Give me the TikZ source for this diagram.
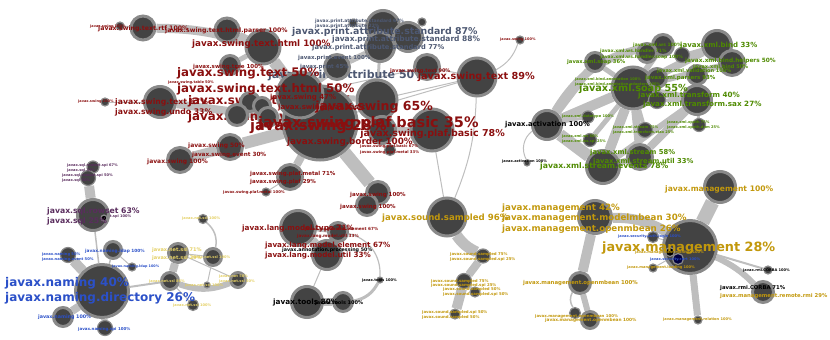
\documentclass[tikz,border=0pt]{standalone}
\usepackage{fontspec}
\setmainfont{DejaVu Sans}
\definecolor{nfill}{HTML}{434343}
\definecolor{nring}{HTML}{8A8A8A}
\definecolor{ecol}{HTML}{BEBEBE}
\definecolor{sw}{HTML}{8A0F0F}
\definecolor{pr}{HTML}{4D5872}
\definecolor{xm}{HTML}{4E8A00}
\definecolor{mg}{HTML}{C2980C}
\definecolor{nt}{HTML}{E3CF63}
\definecolor{nm}{HTML}{2B50C8}
\definecolor{sq}{HTML}{5A2D5E}
\pgfdeclarelayer{bg}
\pgfsetlayers{bg,main}
\begin{document}
\begin{tikzpicture}[x=1pt,y=-1pt,
 nd/.style={circle,fill=nfill,draw=nring,line width=3pt,inner sep=0pt,minimum size=#1pt},
 sn/.style={circle,fill=nfill,draw=nring,line width=1.2pt,inner sep=0pt,minimum size=#1pt},
 lb/.style={anchor=west,inner sep=0pt,font=\bfseries\fontsize{#1}{#1}\selectfont},
 ed/.style={draw=ecol,line width=#1pt}]
\useasboundingbox (0,0) rectangle (830,340);
% ---------- occluded labels ----------
\node[lb=11.8,text=sw] (B1) at (188,101) {javax.swing.text.rtf 67\%};
\node[lb=11.8,text=sw] (B2) at (188,117) {javax.swing.event 75\%};
\node[lb=11,text=pr] (B3) at (268,76) {javax.print.attribute 50\%};
\node[lb=3.6,text=sq] (B4) at (78,217) {javax.sql.rowset.spi 100\%};
% ---------- nodes: swing ----------
\node[sn=8] (s0) at (120,26) {};
\node[nd=24] (s1) at (143,28) {};
\node[nd=24] (s2) at (227,30) {};
\node[nd=34] (s3) at (263,47) {};
\node[nd=19] (s4) at (230,65) {};
\node[nd=31] (s5) at (160,102) {};
\node[sn=8] (s6) at (105,102) {};
\node[nd=19] (s7) at (250,102) {};
\node[nd=17] (s8) at (262,106) {};
\node[nd=21] (s9) at (237,115) {};
\node[nd=19] (s10) at (268,117) {};
\node[nd=74] (c1) at (320,123) {};
\node[nd=46] (c2) at (300,95) {};
\node[nd=40] (c3) at (377,100) {};
\node[nd=27] (c4) at (382,130) {};
\node[nd=42] (c5) at (432,130) {};
\node[sn=11] (c6) at (390,150) {};
\node[nd=25] (s11) at (230,147) {};
\node[nd=25] (s12) at (180,160) {};
\node[nd=25] (s13) at (290,177) {};
\node[sn=8] (s14) at (266,192) {};
\node[nd=23] (s15) at (378,193) {};
\node[nd=21] (s16) at (367,205) {};
\node[nd=25] (s17) at (427,67) {};
\node[nd=38] (s18) at (477,77) {};
\node[sn=8] (s19) at (520,40) {};
% print
\node[nd=33] (p1) at (383,27) {};
\node[nd=29] (p2) at (408,37) {};
\node[nd=29] (p3) at (380,47) {};
\node[nd=25] (p4) at (337,67) {};
\node[sn=8] (p5) at (353,23) {};
\node[sn=8] (p6) at (422,22) {};
% lang, tools
\node[nd=35] (l1) at (298,228) {};
\node[nd=19] (l2) at (338,232) {};
\node[nd=29] (l3) at (327,255) {};
\node[nd=31] (t1) at (307,302) {};
\node[nd=19] (t2) at (343,302) {};
\node[sn=6] (t3) at (380,280) {};
% sound
\node[nd=38] (a1) at (447,217) {};
\node[sn=14] (a2) at (483,256) {};
\node[sn=15] (a3) at (464,281) {};
\node[sn=10] (a4) at (475,292) {};
\node[sn=10] (a5) at (455,314) {};
% xml
\node[nd=29] (x0) at (547,125) {};
\node[sn=6] (x1) at (527,163) {};
\node[nd=19] (x2) at (595,62) {};
\node[nd=42] (x3) at (633,88) {};
\node[nd=21] (x4) at (663,45) {};
\node[nd=19] (x5) at (647,53) {};
\node[sn=15] (x6) at (682,55) {};
\node[nd=29] (x7) at (717,45) {};
\node[nd=25] (x8) at (732,63) {};
\node[nd=19] (x9) at (697,75) {};
\node[nd=19] (x10) at (657,78) {};
\node[nd=29] (x11) at (697,100) {};
\node[sn=17] (x12) at (657,100) {};
\node[sn=12] (x13) at (588,117) {};
\node[sn=15] (x14) at (645,130) {};
\node[sn=13] (x15) at (590,140) {};
\node[sn=13] (x16) at (699,125) {};
\node[nd=25] (x17) at (640,157) {};
\node[nd=33] (x18) at (603,167) {};
% management
\node[nd=31] (m1) at (720,187) {};
\node[nd=53] (m2) at (690,247) {};
\node[nd=33] (m3) at (595,217) {};
\node[sn=11] (m4) at (653,237) {};
\node[sn=9,fill=black] (m5) at (670,252) {};
\node[sn=11,fill=blue!25!black] (m6) at (678,259) {};
\node[sn=8] (m7) at (653,268) {};
\node[nd=21] (m8) at (580,283) {};
\node[sn=11] (m9) at (575,313) {};
\node[nd=17] (m10) at (590,320) {};
\node[sn=8] (m11) at (698,320) {};
\node[sn=8] (m12) at (768,270) {};
\node[nd=21] (m13) at (763,292) {};
% naming
\node[nd=53] (n1) at (102,291) {};
\node[sn=15] (n2) at (68,255) {};
\node[nd=17] (n3) at (113,250) {};
\node[sn=8] (n4) at (132,267) {};
\node[nd=19] (n5) at (63,317) {};
\node[sn=15] (n6) at (105,328) {};
% sql
\node[sn=12] (q1) at (93,167) {};
\node[sn=15] (q2) at (88,178) {};
\node[nd=31] (q3) at (93,215) {};
\node[sn=6,fill=black] (q4) at (104,218) {};
% net
\node[sn=9] (e1) at (203,219) {};
\node[nd=19] (e2) at (178,253) {};
\node[nd=17] (e3) at (213,257) {};
\node[nd=17] (e4) at (170,281) {};
\node[sn=6] (e5) at (207,285) {};
\node[nd=15] (e6) at (238,280) {};
\node[sn=11] (e7) at (193,305) {};
% ---------- edges ----------
\begin{pgfonlayer}{bg}
\draw[ed=1.5] (s0) -- (s1);
\draw[ed=9] (s1) to[bend left=8] (s3);
\draw[ed=8] (s2) -- (s3);
\draw[ed=12] (s3) -- (c1);
\draw[ed=5] (s4) -- (s3);
\draw[ed=8] (s5) -- (c1);
\draw[ed=1] (s6) -- (s5);
\draw[ed=10] (s12) -- (s11);
\draw[ed=12] (s11) -- (c1);
\draw[ed=8] (s13) -- (c1);
\draw[ed=1] (s14) -- (s13);
\draw[ed=13] (c1) -- (s15);
\draw[ed=4] (s16) -- (s15);
\draw[ed=1] (s17) -- (c2);
\draw[ed=1] (s18) -- (c3);
\draw[ed=1] (s18) -- (c1);
\draw[ed=1] (s17) -- (s18);
\draw[ed=1] (s18) to[bend right=20] (s19);
\draw[ed=1] (s18) to[bend left=10] (a1);
\draw[ed=1] (c5) -- (a1);
\draw[ed=6] (c5) -- (c4);
\draw[ed=6] (c3) -- (c2);
\draw[ed=2] (c6) -- (c4);
\draw[ed=6] (p3) -- (p4);
\draw[ed=6] (p4) -- (c2);
\draw[ed=4] (p1) -- (p2);
\draw[ed=1] (p5) -- (p1);
\draw[ed=1] (p6) -- (p2);
\draw[ed=3] (p3) -- (c3);
\draw[ed=10] (l1) -- (l3);
\draw[ed=3] (l1) -- (l2);
\draw[ed=1.2] (l2) to[bend left=40] (t3);
\draw[ed=3] (t3) to[bend left=25] (t2);
\draw[ed=1] (l3) -- (t1);
\draw[ed=8] (t1) -- (t2);
\draw[ed=11] (a1) to[bend right=15] (a2);
\draw[ed=8] (a2) -- (a3);
\draw[ed=10] (a3) -- (a5);
\draw[ed=3] (a4) -- (a3);
\draw[ed=12] (x0) -- (x18);
\draw[ed=8] (x0) -- (x2);
\draw[ed=10] (x0) -- (x3);
\draw[ed=3] (x0) -- (x13);
\draw[ed=1] (x0) to[bend right=40] (x1);
\draw[ed=10] (x18) -- (x3);
\draw[ed=8] (x17) -- (x11);
\draw[ed=6] (x18) -- (x11);
\draw[ed=8] (x17) -- (x3);
\draw[ed=5] (x15) -- (x3);
\draw[ed=4] (x14) -- (x3);
\draw[ed=5] (x2) -- (x3);
\draw[ed=6] (x3) -- (x4);
\draw[ed=8] (x3) -- (x7);
\draw[ed=6] (x3) -- (x8);
\draw[ed=8] (x3) -- (x11);
\draw[ed=4] (x3) -- (x10);
\draw[ed=8] (x0) to[bend left=25] (x4);
\draw[ed=3] (x5) -- (x4);
\draw[ed=3] (x6) -- (x7);
\draw[ed=3] (x9) -- (x8);
\draw[ed=3] (x12) -- (x11);
\draw[ed=3] (x16) -- (x11);
\draw[ed=6] (x18) -- (x17);
\draw[ed=14] (m2) -- (m1);
\draw[ed=10] (m2) to[bend right=15] (m3);
\draw[ed=10] (m3) -- (m8);
\draw[ed=6] (m8) -- (m10);
\draw[ed=1.5] (m9) to[bend left=30] (m8);
\draw[ed=7] (m2) -- (m11);
\draw[ed=6] (m2) to[bend left=10] (m13);
\draw[ed=2] (m2) -- (m12);
\draw[ed=1] (m2) -- (m4);
\draw[ed=1] (m2) -- (m7);
\draw[ed=10] (n1) -- (n2);
\draw[ed=8] (n1) -- (n5);
\draw[ed=7] (n1) -- (n6);
\draw[ed=1.5] (n1) -- (n3);
\draw[ed=1] (n3) -- (n4);
\draw[ed=2] (n1) -- (e4);
\draw[ed=1.5] (q3) -- (n1);
\draw[ed=10] (q3) -- (q2);
\draw[ed=6] (q2) -- (q1);
\draw[ed=8] (e4) -- (e2);
\draw[ed=6] (e4) to[bend right=20] (e6);
\draw[ed=1.5] (e3) to[bend right=30] (e1);
\draw[ed=1] (e3) -- (e5);
\draw[ed=1] (e2) -- (e6);
\draw[ed=1] (e4) -- (e7);
\draw[ed=1] (e2) -- (e3);
\end{pgfonlayer}
% ---------- labels ----------
% swing
\node[lb=3.5,text=sw] (L1) at (90,27) {javax.swing 100\%};
\node[lb=6.2,text=sw] (L2) at (98,29) {javax.swing.text.rtf 100\%};
\node[lb=6.2,text=sw] (L3) at (165,31) {javax.swing.text.html.parser 100\%};
\node[lb=8.8,text=sw] (L4) at (192,44) {javax.swing.text.html 100\%};
\node[lb=5.5,text=sw] (L5) at (193,67) {javax.swing.tree 100\%};
\node[lb=11.8,text=sw] (L6) at (177,73) {javax.swing.text 50\%};
\node[lb=3.6,text=sw] (L7) at (168,83) {javax.swing.table 50\%};
\node[lb=11.8,text=sw] (L8) at (177,89) {javax.swing.text.html 50\%};
\node[lb=3.5,text=sw] (L9) at (78,102) {javax.swing 100\%};
\node[lb=7.7,text=sw] (L10) at (115,102) {javax.swing.text 67\%};
\node[lb=7.7,text=sw] (L11) at (115,112) {javax.swing.undo 33\%};
\node[lb=14.5,text=sw] (L12) at (250,127) {javax.swing 28\%};
\node[lb=14.5,text=sw] (L13) at (258,124) {javax.swing.plaf.basic 35\%};
\node[lb=7,text=sw] (L14) at (270,98) {javax.swing 47\%};
\node[lb=7,text=sw] (L15) at (278,108) {javax.swing.plaf.basic};
\node[lb=12.5,text=sw,anchor=east] (L16) at (433,107) {javax.swing 65\%};
\node[lb=9.5,text=sw,anchor=east] (L17) at (505,134) {javax.swing.plaf.basic 78\%};
\node[lb=8.8,text=sw] (L18) at (287,142) {javax.swing.border 100\%};
\node[lb=3.8,text=sw] (L19) at (360,146) {javax.swing.plaf.basic 67\%};
\node[lb=3.8,text=sw] (L20) at (360,152) {javax.swing.plaf.metal 33\%};
\node[lb=5,text=sw] (L21) at (390,71) {javax.swing.text 90\%};
\node[lb=9.7,text=sw,anchor=east] (L22) at (535,77) {javax.swing.text 89\%};
\node[lb=3.5,text=sw] (L23) at (500,40) {javax.swing 100\%};
\node[lb=6,text=sw] (L24) at (188,146) {javax.swing 50\%};
\node[lb=5.7,text=sw] (L25) at (192,155) {javax.swing.event 30\%};
\node[lb=6,text=sw] (L26) at (147,162) {javax.swing 100\%};
\node[lb=5.5,text=sw] (L27) at (250,174) {javax.swing.plaf.metal 71\%};
\node[lb=5.5,text=sw] (L28) at (250,182) {javax.swing.plaf 29\%};
\node[lb=3.8,text=sw] (L29) at (223,192) {javax.swing.plaf.metal 100\%};
\node[lb=5.5,text=sw] (L30) at (350,195) {javax.swing 100\%};
\node[lb=5.5,text=sw] (L31) at (340,207) {javax.swing 100\%};
% print
\node[lb=4.5,text=pr] (P1) at (315,21) {javax.print.attribute.standard 67\%};
\node[lb=4.5,text=pr] (P2) at (315,26) {javax.print.attribute 22\%};
\node[lb=9.4,text=pr] (P3) at (292,32) {javax.print.attribute.standard 87\%};
\node[lb=7.5,text=pr] (P4) at (332,39) {javax.print.attribute.standard 88\%};
\node[lb=6.7,text=pr] (P5) at (312,48) {javax.print.attribute.standard 77\%};
\node[lb=5.5,text=pr] (P6) at (298,58) {javax.print.event 100\%};
\node[lb=5.5,text=pr] (P7) at (300,67) {javax.print 45\%};
% lang and tools
\node[lb=7.3,text=sw] (G1) at (242,229) {javax.lang.model.type 71\%};
\node[lb=4.2,text=sw] (G2) at (305,229) {javax.lang.model.element 67\%};
\node[lb=4.2,text=sw] (G3) at (297,236) {javax.lang.model.util 33\%};
\node[lb=7.2,text=sw] (G4) at (265,246) {javax.lang.model.element 67\%};
\node[lb=7.2,text=sw] (G5) at (265,256) {javax.lang.model.util 33\%};
\node[lb=4.8] (G6) at (282,250) {javax.annotation.processing 50\%};
\node[lb=3.6] (G7) at (362,281) {javax.tools 100\%};
\node[lb=7.3] (G8) at (273,303) {javax.tools 80\%};
\node[lb=5] (G9) at (315,303) {javax.tools 100\%};
% sound
\node[lb=8.6,text=mg] (A1) at (382,218) {javax.sound.sampled 96\%};
\node[lb=3.9,text=mg] (A2) at (450,254) {javax.sound.sampled 75\%};
\node[lb=3.9,text=mg] (A3) at (450,259) {javax.sound.sampled.spi 25\%};
\node[lb=3.9,text=mg] (A4) at (431,281) {javax.sound.sampled 75\%};
\node[lb=3.9,text=mg] (A5) at (431,285) {javax.sound.sampled.spi 25\%};
\node[lb=3.9,text=mg] (A6) at (443,289) {javax.sound.sampled 50\%};
\node[lb=3.9,text=mg] (A7) at (443,294) {javax.sound.sampled.spi 50\%};
\node[lb=3.9,text=mg] (A8) at (422,312) {javax.sound.sampled.spi 50\%};
\node[lb=3.9,text=mg] (A9) at (422,317) {javax.sound.sampled 50\%};
% management
\node[lb=7.6,text=mg] (M1) at (665,189) {javax.management 100\%};
\node[lb=8.7,text=mg] (M2) at (502,208) {javax.management 42\%};
\node[lb=8.7,text=mg] (M3) at (502,218) {javax.management.modelmbean 30\%};
\node[lb=8.7,text=mg] (M4) at (502,229) {javax.management.openmbean 26\%};
\node[lb=12.8,text=mg] (M5) at (602,248) {javax.management 28\%};
\node[lb=5.4,text=mg] (M6) at (523,283) {javax.management.openmbean 100\%};
\node[lb=3.9,text=mg] (M7) at (535,316) {javax.management.openmbean 100\%};
\node[lb=4.3,text=mg] (M8) at (545,320) {javax.management.openmbean 100\%};
\node[lb=3.6,text=mg] (M9) at (663,320) {javax.management.relation 100\%};
\node[lb=3.6,text=mg] (M10) at (635,253) {javax.management.monitor 100\%};
\node[lb=3.6,text=mg] (M11) at (627,268) {javax.management.loading 100\%};
\node[lb=5.3,text=mg] (M12) at (720,296) {javax.management.remote.rmi 29\%};
\node[lb=5.3] (M13) at (720,288) {javax.rmi.CORBA 71\%};
\node[lb=3.6] (M14) at (743,271) {javax.rmi.CORBA 100\%};
\node[lb=3.6,text=nm] (M15) at (618,237) {javax.security.auth.login 100\%};
\node[lb=3.6,text=nm] (M16) at (650,260) {javax.security.cert 100\%};
% xml
\node[lb=5.2,text=xm] (X1) at (567,62) {javax.xml.soap 36\%};
\node[lb=4.5,text=xm] (X2) at (600,51) {javax.xml.ws.handler 71\%};
\node[lb=4.5,text=xm] (X3) at (600,57) {javax.xml.ws.handler.soap 100\%};
\node[lb=4.5,text=xm] (X4) at (633,45) {javax.xml.ws 100\%};
\node[lb=7,text=xm] (X5) at (680,46) {javax.xml.bind 33\%};
\node[lb=5.8,text=xm] (X6) at (685,61) {javax.xml.bind.helpers 50\%};
\node[lb=5,text=xm] (X7) at (693,67) {javax.xml.bind 50\%};
\node[lb=5,text=xm] (X8) at (657,71) {javax.xml.validation 100\%};
\node[lb=5.5,text=xm] (X9) at (645,78) {javax.xml.parsers 93\%};
\node[lb=3.6,text=xm] (X10) at (575,80) {javax.xml.bind.annotation 100\%};
\node[lb=3.6,text=xm] (X11) at (575,85) {javax.xml.bind.annotation.adapters 100\%};
\node[lb=9.7,text=xm] (X12) at (579,89) {javax.xml.soap 55\%};
\node[lb=7.2,text=xm] (X13) at (638,96) {javax.xml.transform 40\%};
\node[lb=7.2,text=xm] (X14) at (643,105) {javax.xml.transform.sax 27\%};
\node[lb=3.6,text=xm] (X15) at (562,117) {javax.xml.datatype 100\%};
\node[lb=3.6,text=xm] (X16) at (613,128) {javax.xml.stream 75\%};
\node[lb=3.6,text=xm] (X17) at (613,133) {javax.xml.transform.stax 25\%};
\node[lb=3.6,text=xm] (X18) at (667,123) {javax.xml.xpath 75\%};
\node[lb=3.6,text=xm] (X19) at (667,128) {javax.xml.xpath.dom 25\%};
\node[lb=3.6,text=xm] (X20) at (562,137) {javax.xml.ws 50\%};
\node[lb=3.6,text=xm] (X21) at (562,142) {javax.xml.ws.spi 25\%};
\node[lb=6.8,text=xm] (X22) at (590,153) {javax.xml.stream 58\%};
\node[lb=6.8,text=xm] (X23) at (593,162) {javax.xml.stream.util 33\%};
\node[lb=7.7,text=xm] (X24) at (540,166) {javax.xml.stream.events 78\%};
\node[lb=6.8] (X25) at (505,125) {javax.activation 100\%};
\node[lb=3.6] (X26) at (502,162) {javax.activation 100\%};
% naming
\node[lb=12,text=nm] (N1) at (5,283) {javax.naming 40\%};
\node[lb=12,text=nm] (N2) at (5,298) {javax.naming.directory 26\%};
\node[lb=3.7,text=nm] (N3) at (42,254) {javax.naming 50\%};
\node[lb=3.7,text=nm] (N4) at (42,259) {javax.naming.event 50\%};
\node[lb=4.3,text=nm] (N5) at (85,251) {javax.naming.ldap 100\%};
\node[lb=3.4,text=nm] (N6) at (112,267) {javax.naming.ldap 100\%};
\node[lb=4.8,text=nm] (N7) at (38,317) {javax.naming 100\%};
\node[lb=4,text=nm] (N8) at (78,329) {javax.naming.spi 100\%};
% sql
\node[lb=3.6,text=sq] (Q1) at (67,166) {javax.sql.rowset.spi 67\%};
\node[lb=3.6,text=sq] (Q2) at (67,171) {javax.sql 33\%};
\node[lb=3.6,text=sq] (Q3) at (62,176) {javax.sql.rowset.spi 50\%};
\node[lb=3.6,text=sq] (Q4) at (62,181) {javax.sql 50\%};
\node[lb=7.7,text=sq] (Q5) at (47,211) {javax.sql.rowset 63\%};
\node[lb=7.7,text=sq] (Q6) at (47,221) {javax.sql 25\%};
% net
\node[lb=3.6,text=nt] (E1) at (182,219) {javax.net.ssl 100\%};
\node[lb=5,text=nt] (E2) at (152,250) {javax.net.ssl 71\%};
\node[lb=5,text=nt] (E3) at (152,258) {javax.net.ssl 29\%};
\node[lb=3.6,text=nt] (E4) at (192,258) {javax.net.ssl 100\%};
\node[lb=3.6,text=nt] (E5) at (149,282) {javax.net.ssl 86\%};
\node[lb=3.6,text=nt] (E6) at (185,286) {javax.net.ssl 100\%};
\node[lb=3.6,text=nt] (E7) at (219,277) {javax.net 50\%};
\node[lb=3.6,text=nt] (E8) at (219,282) {javax.net.ssl 50\%};
\node[lb=3.6,text=nt] (E9) at (173,306) {javax.net.ssl 100\%};
\end{tikzpicture}
\end{document}
